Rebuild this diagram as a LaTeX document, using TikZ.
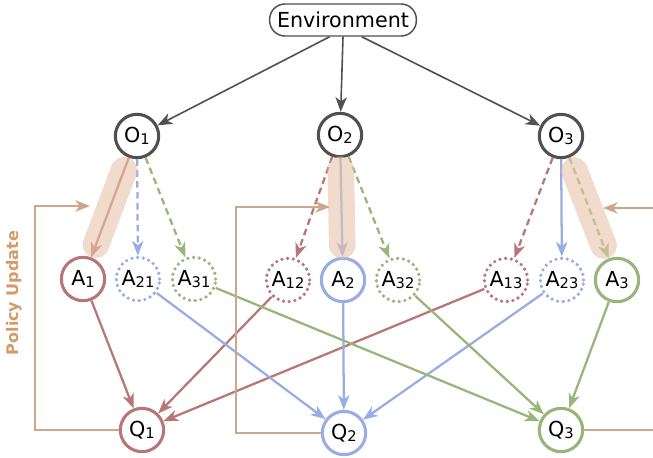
\documentclass[tikz,border=0pt]{standalone}
\usepackage{fontspec}
\setmainfont{DejaVu Sans}
\usetikzlibrary{arrows.meta,calc}

\definecolor{agred}{HTML}{B97676}
\definecolor{agblue}{HTML}{98ADE4}
\definecolor{aggreen}{HTML}{98B57A}
\definecolor{obsgray}{HTML}{505050}
\definecolor{updline}{HTML}{CDA68C}
\definecolor{updband}{HTML}{E6C3AA}
\definecolor{updtext}{HTML}{D49A68}

% letter with a small lowered index
\newcommand{\sublbl}[2]{#1\raisebox{-1.8pt}{\fontsize{11}{11}\selectfont#2}}

\begin{document}
\begin{tikzpicture}[x=0.75pt,y=-0.75pt,
	every node/.style={font=\fontsize{15.5}{17}\selectfont},
	arr/.style={-{Stealth[length=11pt,width=8.5pt,inset=3.2pt]}},
	ag/.style={shape=circle,draw=#1,line width=2.3pt,fill=white,minimum size=32.5pt,inner sep=0pt},
	agdot/.style={ag=#1,line width=2.7pt,dash pattern=on 0pt off 4.3pt,line cap=round},
	link/.style={arr,draw=#1,line width=1.7pt},
	dlink/.style={link=#1,dash pattern=on 5pt off 3.2pt},
	band/.style={updband,line width=20pt,line cap=round,opacity=0.6},
	feedback/.style={arr,draw=updline,line width=1.7pt}]
	\useasboundingbox (0,0) rectangle (653,457);
	\clip (0,0) rectangle (653,457);

	\node[draw=obsgray,line width=1.1pt,rounded corners=11.5pt,minimum width=110pt,minimum height=24pt] (env) at (343,20) {Environment};

	\node[ag=obsgray] (O1) at (137,136) {\sublbl{O}{1}};
	\node[ag=obsgray] (O2) at (340,135) {\sublbl{O}{2}};
	\node[ag=obsgray] (O3) at (561,136) {\sublbl{O}{3}};

	\node[ag=agred] (A1) at (83,279) {\sublbl{A}{1}};
	\node[agdot=agblue] (A21) at (138,279) {\sublbl{A}{21}};
	\node[agdot=aggreen] (A31) at (194,279) {\sublbl{A}{31}};
	\node[agdot=agred] (A12) at (288,280) {\sublbl{A}{12}};
	\node[ag=agblue] (A2) at (343,280) {\sublbl{A}{2}};
	\node[agdot=aggreen] (A32) at (398,280) {\sublbl{A}{32}};
	\node[agdot=agred] (A13) at (506,280) {\sublbl{A}{13}};
	\node[agdot=agblue] (A23) at (562,280) {\sublbl{A}{23}};
	\node[ag=aggreen] (A3) at (617,280) {\sublbl{A}{3}};

	\node[ag=agred] (Q1) at (142,430) {\sublbl{Q}{1}};
	\node[ag=agblue] (Q2) at (344,433) {\sublbl{Q}{2}};
	\node[ag=aggreen] (Q3) at (561,430) {\sublbl{Q}{3}};

	\node[rotate=90,font=\fontsize{12}{14}\selectfont\bfseries,text=updtext] (pu) at (14,293) {Policy Update};

	% observations
	\draw[link=obsgray,line width=1.2pt] ([xshift=-10pt]env.south) -- (O1);
	\draw[link=obsgray,line width=1.2pt] (env.south) -- (O2);
	\draw[link=obsgray,line width=1.2pt] ([xshift=14pt]env.south) -- (O3);

	% actions, own and estimated
	\draw[link=agred] (O1) -- (A1);
	\draw[dlink=agblue] (O1) -- (A21);
	\draw[dlink=aggreen] (O1) -- (A31);
	\draw[dlink=agred] (O2) -- (A12);
	\draw[link=agblue] (O2) -- (A2);
	\draw[dlink=aggreen] (O2) -- (A32);
	\draw[dlink=agred] (O3) -- (A13);
	\draw[link=agblue] (O3) -- (A23);
	\draw[dlink=aggreen] (O3) -- (A3);

	% critics
	\draw[link=agred] (A1) -- (Q1);
	\draw[link=agred] (A12) -- (Q1);
	\draw[link=agred] (A13) -- (Q1);
	\draw[link=agblue] (A21) -- (Q2);
	\draw[link=agblue] (A2) -- (Q2);
	\draw[link=agblue] (A23) -- (Q2);
	\draw[link=aggreen] (A31) -- (Q3);
	\draw[link=aggreen] (A32) -- (Q3);
	\draw[link=aggreen] (A3) -- (Q3);

	% policy update loops
	\draw[band] ($(O1)!0.24!(A1)$) -- ($(O1)!0.76!(A1)$);
	\draw[band] ($(O2)!0.24!(A2)$) -- ($(O2)!0.76!(A2)$);
	\draw[band] ($(O3)!0.24!(A3)$) -- ($(O3)!0.76!(A3)$);

	\coordinate (u1) at (90,206);
	\coordinate (u2) at (330,207);
	\coordinate (u3) at (603,208);
	\draw[feedback] (Q1.west) -- (35,430) |- (u1);
	\draw[feedback] (Q2.west) -- (236,433) |- (u2);
	\draw[feedback] (Q3.east) -- (665,430) |- (u3);
\end{tikzpicture}
\end{document}
